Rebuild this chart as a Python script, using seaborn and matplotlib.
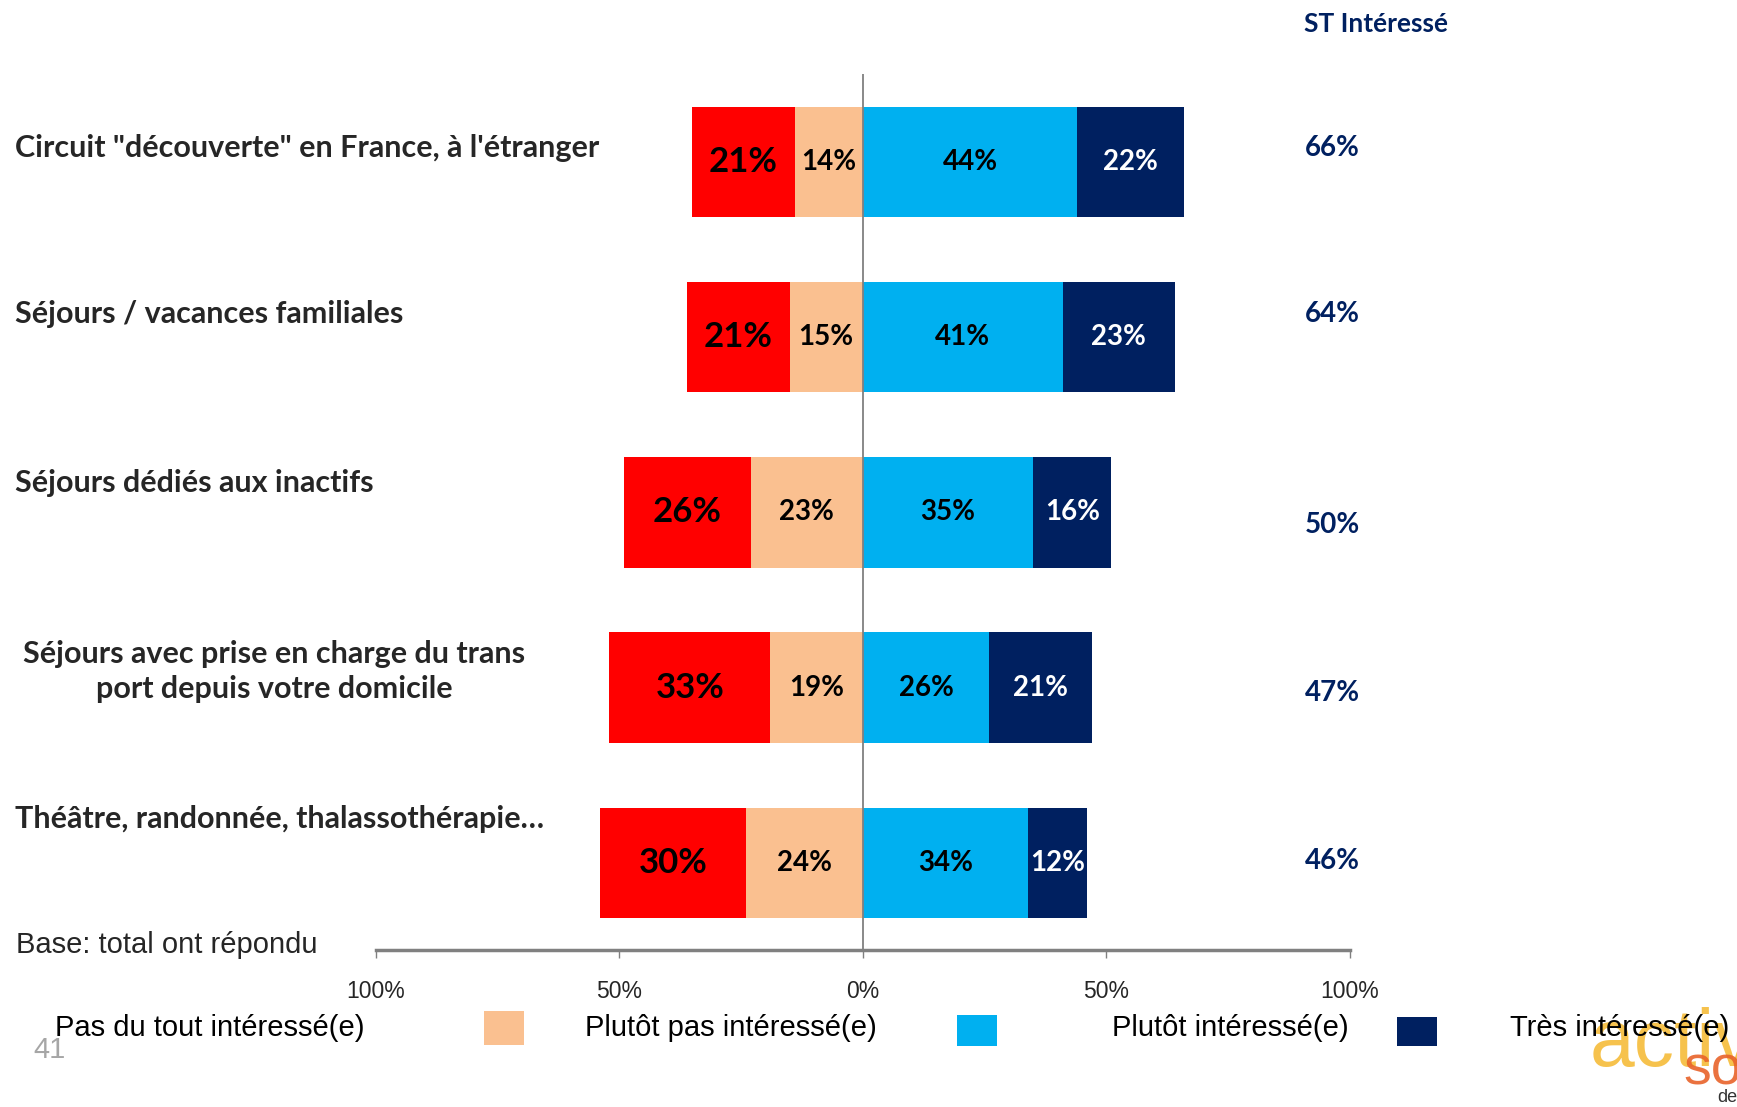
import pandas as pd
import seaborn as sns
import matplotlib.pyplot as plt
from matplotlib.patches import Rectangle
from matplotlib.transforms import blended_transform_factory

# données
categories = [
    "Circuit \"découverte\" en France, à l'étranger",
    "Séjours / vacances familiales",
    "Séjours dédiés aux inactifs",
    "Séjours avec prise en charge du trans\nport depuis votre domicile",
    "Théâtre, randonnée, thalassothérapie…",
]
pas_du_tout = [21, 21, 26, 33, 30]
plutot_pas = [14, 15, 23, 19, 24]
plutot = [44, 41, 35, 26, 34]
tres = [22, 23, 16, 21, 12]
st_interesse = [66, 64, 50, 47, 46]
tick_values = [-100, -50, 0, 50, 100]
tick_labels = ["100%", "50%", "0%", "50%", "100%"]
legend_labels = ["Pas du tout intéressé(e)", "Plutôt pas intéressé(e)",
                 "Plutôt intéressé(e)", "Très intéressé(e)"]

ROUGE, PECHE, BLEU, MARINE = "#FF0000", "#FAC090", "#00B0F0", "#002060"
GRIS = "#808080"

df = pd.DataFrame({"cat": categories, "rouge": pas_du_tout, "peche": plutot_pas,
                   "bleu": plutot, "marine": tres})
df["gauche_tot"] = -(df["rouge"] + df["peche"])
df["gauche_int"] = -df["peche"]
df["droite_tot"] = df["bleu"] + df["marine"]
df["droite_int"] = df["bleu"]

sns.set_theme(style="white")
plt.rcParams["font.family"] = ["Liberation Sans", "DejaVu Sans"]
BOLD = ["Lato", "DejaVu Sans"]

fig = plt.figure(figsize=(17.37, 11.07), dpi=100)
ax = fig.add_axes([0.2162, 0.1414, 0.561, 0.7916])

# barres empilées : on dessine le total puis la partie intérieure par-dessus
for col, couleur in [("gauche_tot", ROUGE), ("gauche_int", PECHE),
                     ("droite_tot", MARINE), ("droite_int", BLEU)]:
    sns.barplot(data=df, x=col, y="cat", color=couleur, saturation=1,
                width=0.63, orient="h", linewidth=0, ax=ax)

ax.set_xlim(-100, 100)
ax.set_ylim(4.5, -0.5)
ax.set_xlabel("")
ax.set_ylabel("")
ax.set_yticks([])
ax.set_xticks(tick_values, tick_labels)
ax.tick_params(axis="x", direction="out", length=6, width=1, color=GRIS,
               pad=15, labelsize=16.5, bottom=True)
for s in ["left", "top", "right"]:
    ax.spines[s].set_visible(False)
ax.spines["bottom"].set_color(GRIS)
ax.spines["bottom"].set_linewidth(2.5)
ax.axvline(0, color=GRIS, lw=1.3, zorder=5)

# étiquettes des segments
for i, r in df.iterrows():
    ax.text(-(r["peche"] + r["rouge"] / 2), i, f"{r['rouge']}%", ha="center", va="center",
            fontsize=25, fontweight="bold", family=BOLD, color="black")
    ax.text(-r["peche"] / 2, i, f"{r['peche']}%", ha="center", va="center",
            fontsize=20, fontweight="bold", family=BOLD, color="black")
    ax.text(r["bleu"] / 2, i, f"{r['bleu']}%", ha="center", va="center",
            fontsize=20, fontweight="bold", family=BOLD, color="black")
    ax.text(r["bleu"] + r["marine"] / 2, i, f"{r['marine']}%", ha="center", va="center",
            fontsize=20, fontweight="bold", family=BOLD, color="white")

# libellés des catégories et colonne ST Intéressé
trans = blended_transform_factory(fig.transFigure, ax.transData)
label_dy = [-0.08, -0.13, -0.165, -0.09, -0.25]
st_dy = [-0.08, -0.13, 0.07, 0.03, -0.01]
for i, cat in enumerate(categories):
    if "\n" in cat:
        ax.text(0.158, i + label_dy[i], cat, transform=trans, ha="center", va="center",
                multialignment="center", linespacing=1.32,
                fontsize=22, fontweight="bold", family=BOLD)
    else:
        ax.text(0.0089, i + label_dy[i], cat, transform=trans, ha="left", va="center",
                fontsize=22, fontweight="bold", family=BOLD)
    ax.text(1332 / 1737, i + st_dy[i], f"{st_interesse[i]}%", transform=trans,
            ha="center", va="center", fontsize=20, fontweight="bold", family=BOLD, color=MARINE)

fig.text(1376 / 1737, 1 - 24 / 1107, "ST Intéressé", ha="center", va="center",
         fontsize=19, fontweight="bold", family=BOLD, color=MARINE)
fig.text(15.5 / 1737, 1 - 945 / 1107, "Base: total ont répondu", ha="left", va="center",
         fontsize=21)

# logo partiel en bas à droite
fig.text(1590 / 1737, 1 - 1045 / 1107, "activités", color="#F5B82E", alpha=0.85,
         fontsize=58, va="center", ha="left", zorder=1)
fig.text(1683 / 1737, 1 - 1070 / 1107, "sociales", color="#E8632A", alpha=0.9,
         fontsize=40, va="center", ha="left", zorder=1)
fig.text(1717 / 1737, 1 - 1097 / 1107, "de", color="#333333", fontsize=13,
         va="center", ha="left", zorder=1)

# légende
swatches = [(-60, 1011, 1045, ROUGE), (484, 1011, 1045, PECHE),
            (957, 1015, 1046, BLEU), (1397, 1017, 1046, MARINE)]
text_x = [55, 585, 1112, 1510]
for (x0, y0, y1, couleur), tx, lab in zip(swatches, text_x, legend_labels):
    fig.add_artist(Rectangle((x0 / 1737, 1 - y1 / 1107), 40 / 1737, (y1 - y0) / 1107,
                             transform=fig.transFigure, facecolor=couleur, edgecolor="none"))
    fig.text(tx / 1737, 1 - 1028 / 1107, lab, ha="left", va="center", fontsize=21,
             color="black", zorder=5)

fig.text(33 / 1737, 1 - 1050 / 1107, "41", fontsize=21, color="#A6A6A6", va="center")

fig.savefig("out.png", dpi=100)
